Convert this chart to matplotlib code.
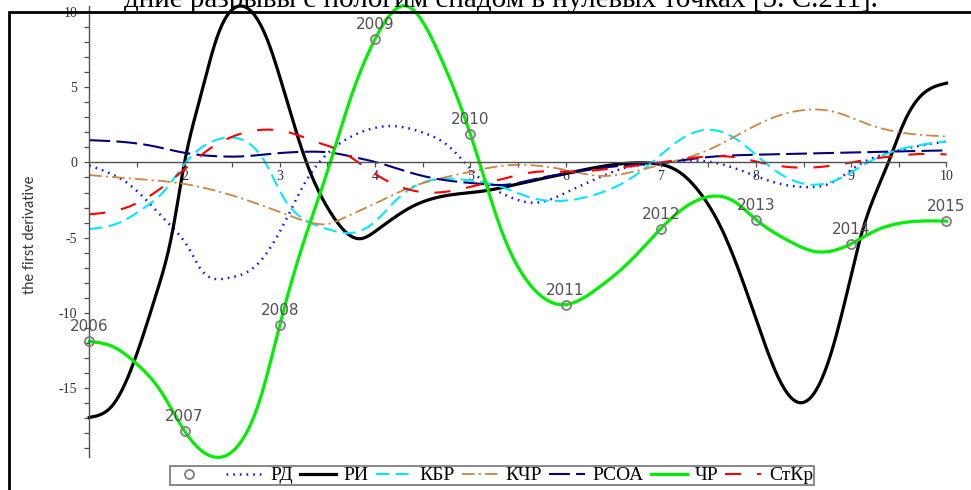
import numpy as np
import matplotlib
matplotlib.use("Agg")
from matplotlib import pyplot as plt
from matplotlib.patches import Rectangle

plt.rcParams['lines.scale_dashes'] = False
plt.rcParams['axes.unicode_minus'] = False

# first derivative of the regional indicators, t = 1..10 (2006..2015)
years = ['2006', '2007', '2008', '2009', '2010', '2011', '2012', '2013', '2014', '2015']

rd_x = [1, 1.17, 1.41, 1.59, 1.76, 1.9, 2.06, 2.16, 2.44, 2.76, 3.05, 3.26, 3.47, 3.81, 4.16, 4.54,
        4.75, 4.93, 5.1, 5.38, 5.7, 6.05, 6.33, 6.6, 7.0, 7.48, 7.83, 8.18, 8.53, 8.81, 9.05, 9.4, 9.71, 10]
rd_y = [-0.2, -0.6, -1.42, -2.45, -3.58, -4.5, -5.87, -7.0, -7.7, -6.8, -4.0, -1.4, 0.4, 1.9, 2.42, 1.9,
        1.2, 0.07, -1.07, -2.2, -2.67, -1.87, -1.07, -0.4, 0.0, 0.07, -0.5, -1.3, -1.64, -1.3, -0.27, 0.64, 1.1, 1.39]

ri_x = [1, 1.25, 1.46, 1.71, 1.87, 2, 2.16, 2.34, 2.59, 2.86, 3.07, 3.28, 3.53, 3.84, 4.02, 4.4, 4.75,
        5.17, 5.52, 6.01, 6.5, 6.9, 7.16, 7.41, 7.66, 8.0, 8.25, 8.45, 8.74, 8.95, 9.11, 9.39, 9.55, 9.76, 10]
ri_y = [-16.95, -16.1, -13.4, -8.6, -4.7, 0.0, 4.2, 8.3, 10.4, 8.3, 4.2, 0.0, -3.3, -5.07, -4.5, -2.9, -2.2,
        -1.87, -1.4, -0.73, -0.15, -0.05, -0.5, -2.0, -4.7, -10.4, -14.5, -15.96, -13.6, -8.8, -4.7, 0.0, 2.6, 4.6, 5.27]

kbr_x = [1, 1.3, 1.58, 1.8, 2.0, 2.23, 2.45, 2.63, 2.84, 3.05, 3.26, 3.54, 3.7, 3.98, 4.23, 4.47, 4.75,
         5.0, 5.28, 5.63, 5.98, 6.33, 6.7, 7.0, 7.2, 7.5, 7.78, 8.0, 8.22, 8.6, 8.88, 9.16, 9.51, 10]
kbr_y = [-4.43, -4.04, -3.0, -1.8, -0.1, 1.2, 1.65, 1.44, 0.07, -2.45, -3.8, -4.5, -4.7, -4.04, -2.45, -1.42, -1.07,
         -1.2, -1.53, -2.33, -2.55, -2.1, -1.0, 0.5, 1.5, 2.17, 1.6, 0.5, -0.62, -1.48, -1.07, -0.05, 0.87, 1.39]

kchr_x = [1, 1.46, 1.99, 2.51, 2.93, 3.28, 3.54, 3.63, 3.98, 4.33, 4.68, 5.0, 5.28, 5.56, 6.0, 6.4, 6.71,
          7.06, 7.41, 7.76, 8.11, 8.53, 8.81, 9.16, 9.51, 10]
kchr_y = [-0.84, -1.07, -1.42, -2.21, -3.13, -3.92, -4.04, -3.81, -2.79, -1.76, -1.07, -0.62, -0.27, -0.16, -0.5, -0.9, -0.62,
          -0.05, 0.6, 1.66, 2.8, 3.5, 3.38, 2.58, 2.0, 1.73]

rsoa_x = [1, 1.3, 1.66, 2.0, 2.35, 2.63, 2.9, 3.26, 3.55, 3.74, 4.05, 4.4, 4.75, 5.1, 5.38, 5.7, 6.01,
          6.5, 6.99, 7.41, 8.11, 8.81, 10]
rsoa_y = [1.48, 1.39, 1.1, 0.64, 0.41, 0.41, 0.57, 0.71, 0.64, 0.41, -0.05, -0.73, -1.19, -1.42, -1.48, -1.07, -0.73,
          -0.27, -0.05, 0.3, 0.53, 0.64, 0.8]

chr_x = [1, 1.25, 1.5, 1.75, 2, 2.33, 2.6, 2.8, 3, 3.25, 3.5, 3.75, 4, 4.33, 4.68, 5, 5.35, 5.63, 6,
         6.33, 6.68, 7, 7.25, 7.52, 7.76, 8, 8.2, 8.4, 8.6, 9, 9.25, 9.51, 10]
chr_y = [-11.9, -12.25, -13.4, -15.2, -17.85, -19.6, -18.5, -15.6, -10.8, -5.3, -0.6, 4.4, 8.2, 10.4, 7.1, 1.9, -4.9, -8.15, -9.45,
         -8.4, -6.55, -4.4, -3.0, -2.26, -2.55, -3.8, -4.7, -5.4, -5.9, -5.4, -4.55, -4.04, -3.9]

stkr_x = [1, 1.2, 1.45, 1.7, 2.0, 2.28, 2.5, 2.81, 3.13, 3.4, 3.56, 3.81, 4.02, 4.33, 4.68, 5.06, 5.35,
          5.7, 6.05, 6.5, 7.0, 7.45, 7.83, 8.04, 8.43, 8.81, 9.16, 9.43, 9.86, 10]
stkr_y = [-3.45, -3.3, -2.85, -1.95, -0.45, 0.98, 1.71, 2.17, 1.94, 1.32, 0.98, 0.07, -0.84, -1.76, -1.99, -1.53, -1.07,
          -0.62, -0.62, -0.39, 0.0, 0.38, 0.3, 0.0, -0.34, -0.2, 0.18, 0.41, 0.57, 0.53]


def spline(x, y, n=600):
    # natural cubic spline through the knots
    x = np.asarray(x, float)
    y = np.asarray(y, float)
    h = np.diff(x)
    m = len(x)
    A = np.zeros((m, m))
    r = np.zeros(m)
    A[0, 0] = A[-1, -1] = 1
    for i in range(1, m - 1):
        A[i, i - 1] = h[i - 1]
        A[i, i] = 2 * (h[i - 1] + h[i])
        A[i, i + 1] = h[i]
        r[i] = 3 * ((y[i + 1] - y[i]) / h[i] - (y[i] - y[i - 1]) / h[i - 1])
    c = np.linalg.solve(A, r)
    b = (y[1:] - y[:-1]) / h - h * (2 * c[:-1] + c[1:]) / 3
    d = (c[1:] - c[:-1]) / (3 * h)
    xs = np.linspace(x[0], x[-1], n)
    k = np.clip(np.searchsorted(x, xs, side='right') - 1, 0, m - 2)
    t = xs - x[k]
    return xs, y[k] + b[k] * t + c[k] * t ** 2 + d[k] * t ** 3


series = [
    ('РД', rd_x, rd_y, dict(color='#1414ff', lw=1.8, dashes=(1.2, 3.6))),
    ('РИ', ri_x, ri_y, dict(color='black', lw=2.3)),
    ('КБР', kbr_x, kbr_y, dict(color='#00eaff', lw=1.5, dashes=(9.5, 4.5))),
    ('КЧР', kchr_x, kchr_y, dict(color='#cd853f', lw=1.3, dashes=(9, 3, 1.5, 3))),
    ('РСОА', rsoa_x, rsoa_y, dict(color='#000080', lw=1.5, dashes=(15, 4.5))),
    ('ЧР', chr_x, chr_y, dict(color='#00ee00', lw=2.3)),
    ('СтКр', stkr_x, stkr_y, dict(color='#ff0000', lw=1.5, dashes=(11.5, 11.5))),
]

fig = plt.figure(figsize=(9.71, 4.9), dpi=100)
ax = fig.add_axes([89.3 / 971, 32.7 / 490, 857.2 / 971, 451.3 / 490])

handles = []
for name, xs, ys, st in series:
    px, py = spline(xs, ys)
    ln, = ax.plot(px, py, clip_on=False, **st)
    handles.append(ln)

# yearly points on the ЧР curve
cx = np.array(chr_x, float)
cy = np.array(chr_y, float)
on_year = np.isin(cx, np.arange(1, 11))
pts, = ax.plot(cx[on_year], cy[on_year], 'o', ms=6.5, mfc='none', mec='#808080', mew=1.3,
               clip_on=False, zorder=5)
for yr, xv, yv in zip(years, cx[on_year], cy[on_year]):
    ax.annotate(yr, (xv, yv), xytext=(0, 10.5), textcoords='offset points', ha='center', va='center',
                fontsize=11, color='#555050', family='DejaVu Sans')

ax.set_xlim(1, 10)
ax.set_ylim(-19.6, 10.4)
for s in ('top', 'right'):
    ax.spines[s].set_visible(False)
ax.spines['bottom'].set_position(('data', 0))
for s in ('left', 'bottom'):
    ax.spines[s].set_color('#505050')
    ax.spines[s].set_linewidth(1.0)

ax.set_xticks(range(2, 11))
ax.set_xticks(np.arange(1.5, 10, 1.0), minor=True)
ax.set_yticks([-15, -10, -5, 0, 5, 10])
ax.set_yticks(np.arange(-19, 11, 1), minor=True)
ax.tick_params(which='both', direction='out', length=3.5, width=0.9, color='#505050',
               labelsize=10, labelcolor='#303040', pad=2)
ax.tick_params(axis='y', pad=5)
for lab in ax.get_xticklabels() + ax.get_yticklabels():
    lab.set_family('Liberation Serif')

fig.text(30 / 971, 0.52, 'the first derivative', rotation=90, ha='center', va='center',
         fontsize=10.5, color='#333333', family='Lato')

leg = fig.legend([pts] + handles, [' '] + [s[0] for s in series], loc='center',
                 bbox_to_anchor=(492 / 971, 14.5 / 490), ncol=8, frameon=True, fancybox=False,
                 prop={'family': 'Liberation Serif', 'size': 14}, handlelength=1.85,
                 handletextpad=0.4, columnspacing=0.36, borderpad=0.05, borderaxespad=0)
leg.get_frame().set_edgecolor('#606060')
leg.get_frame().set_linewidth(1.3)

# border of the figure box and the cut text line above it
fig.patches.append(Rectangle((8.5 / 971, -0.1), 1.0, 1.1 - 12 / 490, transform=fig.transFigure,
                             fill=False, ec='black', lw=2.0))
fig.text(878 / 971, 1 - 7 / 490, 'дние разрывы с пологим спадом в нулевых точках [5. С.211].',
         ha='right', va='baseline', fontsize=21, family='Liberation Serif', color='black')

fig.savefig('out.png', dpi=100)
